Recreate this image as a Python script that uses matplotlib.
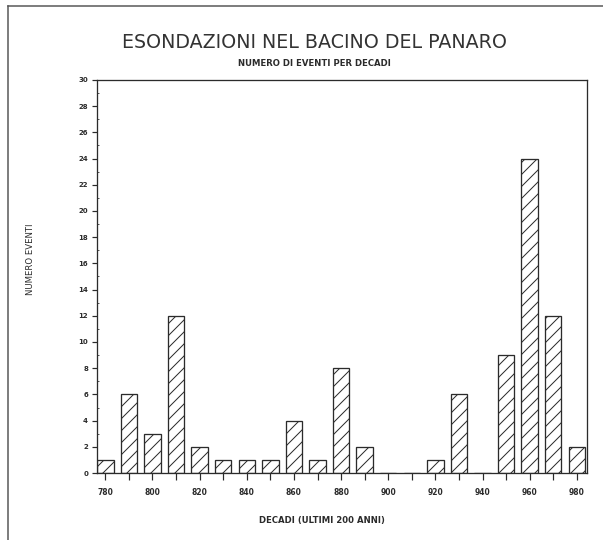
import matplotlib
matplotlib.use('Agg')
import matplotlib.pyplot as plt
from matplotlib.lines import Line2D

# Decades (1780-1980) and number of flood events per decade
decades = [780, 790, 800, 810, 820, 830, 840, 850, 860, 870, 880,
           890, 900, 910, 920, 930, 940, 950, 960, 970, 980]
events = [1, 6, 3, 12, 2, 1, 1, 1, 4, 1, 8,
          2, 0, 0, 1, 6, 0, 9, 24, 12, 2]
xtick_labels = ['780', '800', '820', '840', '860', '880',
                '900', '920', '940', '960', '980']
ytick_values = list(range(0, 31, 2))

ink = '#2b2b2b'
plt.rcParams['hatch.linewidth'] = 1.0
plt.rcParams['hatch.color'] = ink

fig = plt.figure(figsize=(603 / 72, 540 / 72), dpi=72)
ax = fig.add_axes([0.161, 0.124, 0.812, 0.728])

ax.bar(decades, events, width=7, facecolor='white', edgecolor=ink,
       linewidth=1.3, hatch='//')

ax.set_xlim(776.5, 984.2)
ax.set_ylim(0, 30)

ax.set_xticks(decades[::2])
ax.set_xticklabels(xtick_labels)
ax.set_xticks(decades, minor=True)
ax.set_yticks(ytick_values)
ax.set_yticks(range(1, 30, 2), minor=True)

ax.tick_params(axis='x', which='both', direction='out', length=7, width=1.2,
               colors=ink, labelsize=7.5, pad=8)
ax.tick_params(axis='y', which='major', direction='out', length=5, width=1.2,
               colors=ink, labelsize=7, pad=4)
ax.tick_params(axis='y', which='minor', direction='in', length=2, width=0.8,
               colors=ink)
for lab in ax.get_xticklabels() + ax.get_yticklabels():
    lab.set_fontweight('bold')

for s in ax.spines.values():
    s.set_color(ink)
    s.set_linewidth(1.3)

fig.text(0.522, 0.922, 'ESONDAZIONI NEL BACINO DEL PANARO', ha='center',
         va='center', fontsize=19, color='#333333')
fig.text(0.522, 0.883, 'NUMERO DI EVENTI PER DECADI', ha='center',
         va='center', fontsize=8.5, fontweight='bold', color=ink)
fig.text(0.534, 0.037, 'DECADI (ULTIMI 200 ANNI)', ha='center',
         va='center', fontsize=8.5, fontweight='bold', color=ink)
fig.text(0.05, 0.52, 'NUMERO EVENTI', ha='center', va='center',
         rotation=90, fontsize=8.5, color=ink)

# border of the scanned page
fig.add_artist(Line2D([8 / 603, 8 / 603], [0, 1 - 6 / 540],
                      transform=fig.transFigure, color='#555555', lw=1.5))
fig.add_artist(Line2D([8 / 603, 1], [1 - 6 / 540, 1 - 6 / 540],
                      transform=fig.transFigure, color='#555555', lw=1.5))

fig.savefig('out.png', dpi=72)
